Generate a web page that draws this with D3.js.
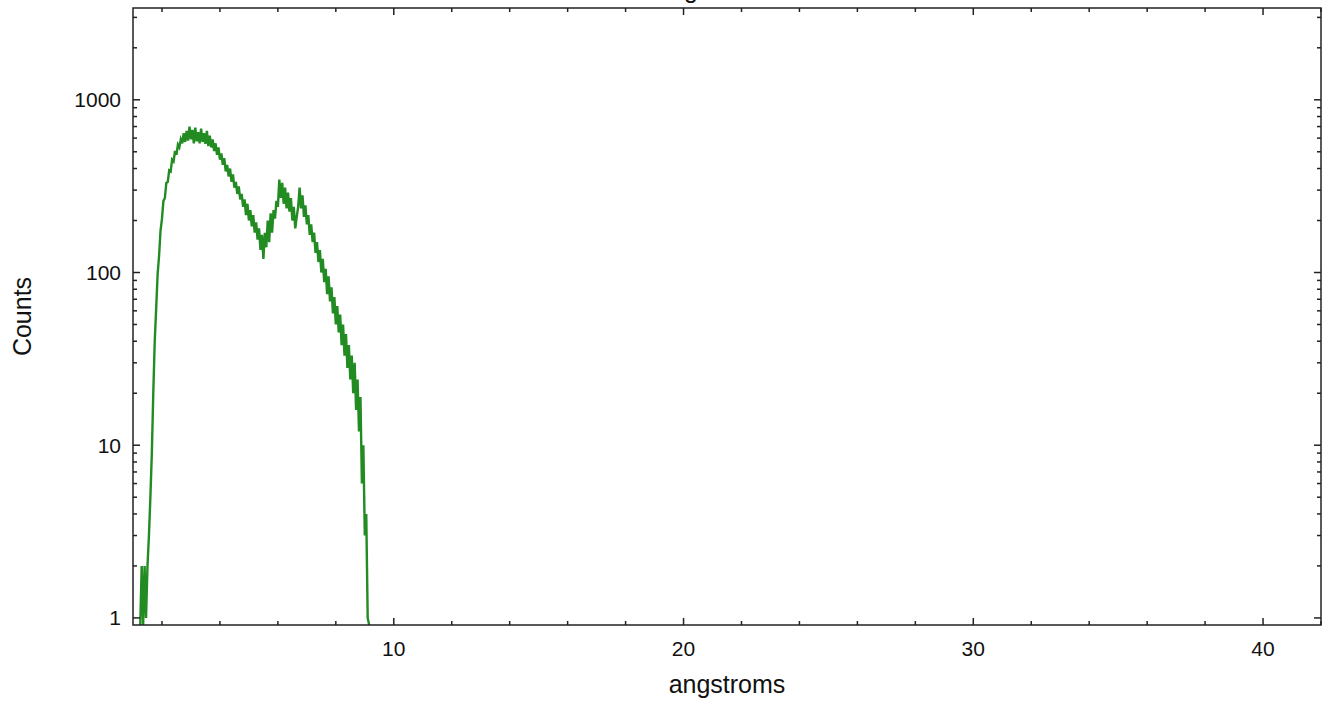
<!DOCTYPE html>
<html>
<head>
<meta charset="utf-8">
<script src="https://cdn.jsdelivr.net/npm/d3@7"></script>
<style>
  html, body { margin: 0; padding: 0; background: #fff; }
  svg { display: block; font-family: "Liberation Sans", Arial, Helvetica, sans-serif; }
</style>
</head>
<body>
<svg id="chart" width="1327" height="704"></svg>
<script>
// ---- data ----
const binStart = 1.25;     // angstroms, first bin
const binWidth = 0.05;     // angstroms
const counts = [
  0, 2, 0, 2, 1, 2, 3, 5, 9, 20,
  40, 62, 98, 125, 175, 205, 260, 270, 330, 335,
  390, 385, 450, 440, 505, 480, 550, 530, 590, 560,
  640, 570, 660, 580, 700, 590, 670, 560, 690, 575,
  650, 560, 680, 570, 640, 555, 660, 540, 620, 530,
  590, 505, 560, 480, 530, 450, 490, 420, 460, 385,
  420, 360, 400, 335, 370, 310, 335, 285, 315, 265,
  285, 240, 265, 215, 250, 200, 230, 185, 215, 170,
  195, 155, 180, 135, 165, 120, 170, 140, 200, 150,
  220, 170, 230, 205, 260, 240, 345, 270, 330, 250,
  310, 235, 290, 225, 270, 200, 240, 180, 210, 240,
  310, 235, 280, 210, 245, 190, 215, 165, 190, 150,
  170, 130, 150, 115, 135, 100, 120, 88, 105, 75,
  95, 68, 82, 58, 72, 50, 64, 45, 57, 38,
  50, 33, 44, 28, 38, 24, 33, 20, 30, 16,
  24, 12, 19, 6, 10, 3, 4, 1, 0
];
const xTickValues = [10, 20, 30, 40];
const yTickValues = [1, 10, 100, 1000];
const xLabel = "angstroms";
const yLabel = "Counts";
const titleText = "Histogram";

// ---- layout ----
const svg = d3.select("#chart");
const L = 133, R = 1321, T = 8, B = 625;

const x = d3.scaleLinear().domain([1, 42]).range([L, R]);
const y = d3.scaleLog().domain([0.91, 3400]).range([B, T]);

const data = counts.map((c, i) => ({ x: binStart + i * binWidth, c }));

// clip
svg.append("clipPath").attr("id", "clip")
  .append("rect").attr("x", L).attr("y", T).attr("width", R - L).attr("height", B - T);

// curve
const line = d3.line()
  .x(d => x(d.x))
  .y(d => d.c > 0 ? y(d.c) : B)
  .curve(d3.curveLinear);

svg.append("path")
  .datum(data)
  .attr("clip-path", "url(#clip)")
  .attr("fill", "none")
  .attr("stroke", "#228b22")
  .attr("stroke-width", 2.4)
  .attr("stroke-linejoin", "miter")
  .attr("d", line);

// ticks
const axisColor = "#222";
const xMinor = d3.range(2, 42.01, 2).filter(v => !xTickValues.includes(v));
const yMinor = [];
for (let e = 0; e <= 3; e++) for (let m = 2; m <= 9; m++) {
  const v = m * Math.pow(10, e);
  if (v <= 3400) yMinor.push(v);
}

const g = svg.append("g").attr("stroke", axisColor).attr("stroke-width", 1.5);
xTickValues.forEach(v => {
  g.append("line").attr("x1", x(v)).attr("x2", x(v)).attr("y1", B).attr("y2", B - 7);
  g.append("line").attr("x1", x(v)).attr("x2", x(v)).attr("y1", T).attr("y2", T + 7);
});
xMinor.forEach(v => {
  g.append("line").attr("x1", x(v)).attr("x2", x(v)).attr("y1", B).attr("y2", B - 4);
  g.append("line").attr("x1", x(v)).attr("x2", x(v)).attr("y1", T).attr("y2", T + 4);
});
yTickValues.forEach(v => {
  g.append("line").attr("x1", L).attr("x2", L + 7).attr("y1", y(v)).attr("y2", y(v));
  g.append("line").attr("x1", R).attr("x2", R - 7).attr("y1", y(v)).attr("y2", y(v));
});
yMinor.forEach(v => {
  g.append("line").attr("x1", L).attr("x2", L + 4).attr("y1", y(v)).attr("y2", y(v));
  g.append("line").attr("x1", R).attr("x2", R - 4).attr("y1", y(v)).attr("y2", y(v));
});

// frame
svg.append("rect")
  .attr("x", L).attr("y", T).attr("width", R - L).attr("height", B - T)
  .attr("fill", "none").attr("stroke", axisColor).attr("stroke-width", 1.5);

// tick labels
svg.append("g").selectAll("text").data(xTickValues).join("text")
  .attr("x", d => x(d)).attr("y", 656)
  .attr("text-anchor", "middle").attr("font-size", 21).attr("fill", "#111")
  .text(d => d);

svg.append("g").selectAll("text").data(yTickValues).join("text")
  .attr("x", 121).attr("y", d => y(d) + 7.5)
  .attr("text-anchor", "end").attr("font-size", 21).attr("fill", "#111")
  .text(d => d);

// axis titles
svg.append("text")
  .attr("x", (L + R) / 2).attr("y", 693)
  .attr("text-anchor", "middle").attr("font-size", 25).attr("fill", "#111")
  .text(xLabel);

svg.append("text")
  .attr("transform", `translate(31, ${(T + B) / 2}) rotate(-90)`)
  .attr("text-anchor", "middle").attr("font-size", 25).attr("fill", "#111")
  .text(yLabel);

// title (mostly above the visible area, only the descender shows, as in the reference)
svg.append("text")
  .attr("x", 684).attr("y", -2)
  .attr("text-anchor", "middle").attr("font-size", 25).attr("fill", "#111")
  .text(titleText);
</script>
</body>
</html>
